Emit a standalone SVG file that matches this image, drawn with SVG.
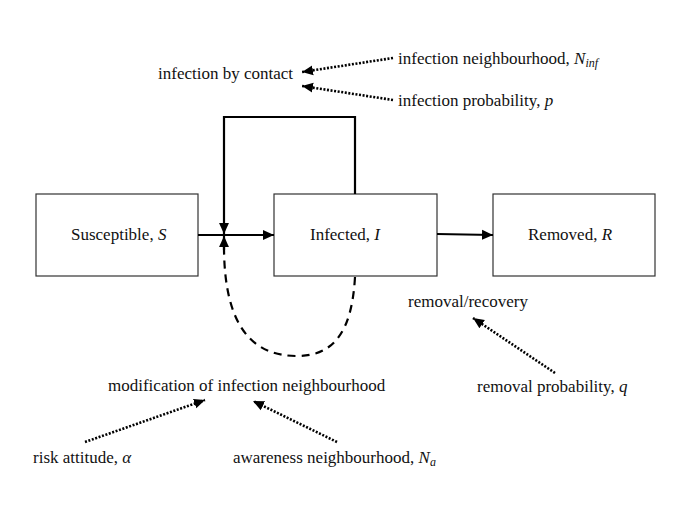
<svg xmlns="http://www.w3.org/2000/svg" width="685" height="513" viewBox="0 0 685 513">
<style>
text{font-family:"Liberation Serif","Times New Roman",serif;font-size:17px;fill:#111}
.it{font-style:italic}
.box{fill:#fff;stroke:#333;stroke-width:1.2}
.solid{fill:none;stroke:#000;stroke-width:2.2}
.dash{fill:none;stroke:#000;stroke-width:2.2;stroke-dasharray:8,6}
.dot{fill:none;stroke:#000;stroke-width:2.6;stroke-dasharray:2,1.6}
</style>
<defs>
<marker id="ah" viewBox="0 0 10 10" refX="10" refY="5" markerWidth="11" markerHeight="11" markerUnits="userSpaceOnUse" orient="auto">
<path d="M0,0.5 L10,5 L0,9.5 Z" fill="#000"/>
</marker>
</defs>
<rect width="685" height="513" fill="#fff"/>
<g id="susceptible"><rect class="box" x="36" y="194" width="162" height="82"/><text x="71" y="240">Susceptible, <tspan class="it">S</tspan></text></g>
<g id="infected"><rect class="box" x="274" y="194" width="163" height="82"/><text x="310" y="240">Infected, <tspan class="it">I</tspan></text></g>
<g id="removed"><rect class="box" x="493" y="194" width="162" height="82"/><text x="528" y="240">Removed, <tspan class="it">R</tspan></text></g>
<g id="infection-by-contact"><text x="158" y="79">infection by contact</text></g>
<g id="infection-neighbourhood"><text x="398" y="64">infection neighbourhood, <tspan class="it">N</tspan><tspan class="it" font-size="12" dy="3">inf</tspan></text></g>
<g id="infection-probability"><text x="398" y="106">infection probability, <tspan class="it">p</tspan></text></g>
<g id="removal-recovery"><text x="408" y="307">removal/recovery</text></g>
<g id="removal-probability"><text x="477" y="392">removal probability, <tspan class="it">q</tspan></text></g>
<g id="modification"><text x="108" y="391">modification of infection neighbourhood</text></g>
<g id="risk-attitude"><text x="33" y="463">risk attitude, <tspan class="it">α</tspan></text></g>
<g id="awareness-neighbourhood"><text x="233" y="463">awareness neighbourhood, <tspan class="it">N</tspan><tspan class="it" font-size="12" dy="3">a</tspan></text></g>
<g id="connectors">
<path class="solid" d="M198,235 L274,235" marker-end="url(#ah)"/>
<path class="solid" d="M437,234 L493,235" marker-end="url(#ah)"/>
<path class="solid" d="M355,194 L355,117 L224,117 L224,234" marker-end="url(#ah)"/>
<path class="dash" d="M355,277 C352,330 335,356 297,356 C255,356 224,330 224,246"/>
<path class="solid" d="M224,250 L224,236" marker-end="url(#ah)"/>
<path class="dot" d="M393,58 L302,72" marker-end="url(#ah)"/>
<path class="dot" d="M393,100 L302,86" marker-end="url(#ah)"/>
<path class="dot" d="M555,373 L473,318" marker-end="url(#ah)"/>
<path class="dot" d="M85,442 L205,400" marker-end="url(#ah)"/>
<path class="dot" d="M337,442 L253,401" marker-end="url(#ah)"/>
</g>
</svg>
